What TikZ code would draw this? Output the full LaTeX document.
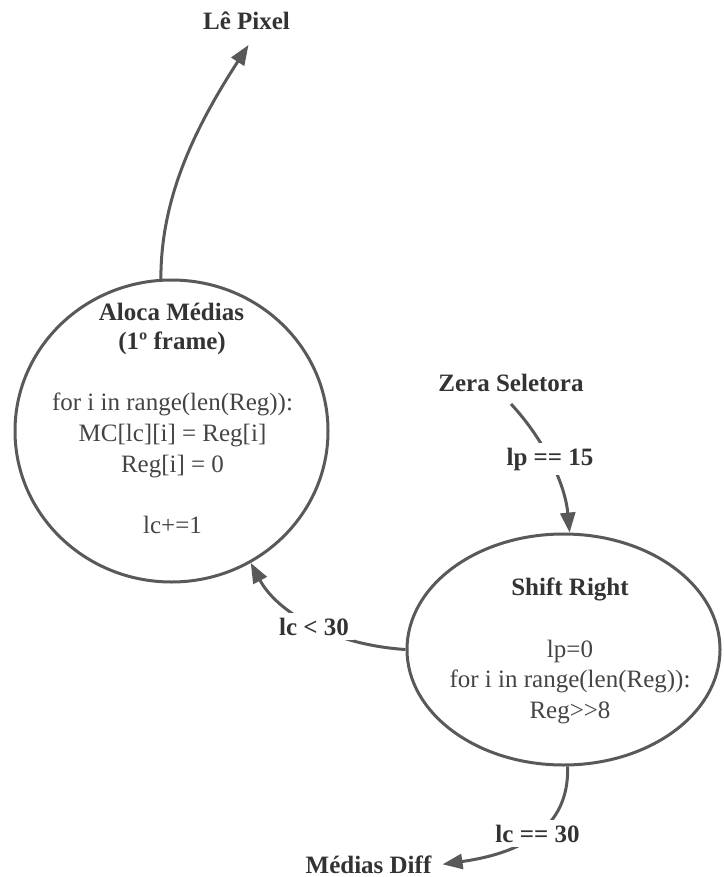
\documentclass[tikz,border=0pt]{standalone}
\usepackage{fontspec}
\setmainfont{Liberation Serif}
\usetikzlibrary{arrows.meta,shapes.geometric}
\definecolor{edgegray}{HTML}{595959}
\definecolor{textdark}{HTML}{333333}
\definecolor{textbody}{HTML}{444444}
\begin{document}
\begin{tikzpicture}[x=1pt,y=-1pt,
  state/.style={draw=edgegray, line width=3pt, ellipse, inner sep=0pt},
  title/.style={text=textdark, font=\fontsize{25}{31}\selectfont\bfseries, inner sep=0pt, anchor=base},
  body/.style={text=textbody, font=\fontsize{25}{31}\selectfont, inner sep=0pt, anchor=base},
  flow/.style={draw=edgegray, line width=3pt, -{Triangle[length=20pt,width=15pt]}},
  guard/.style={title, fill=white, inner sep=5pt},
]
\useasboundingbox (0,0) rectangle (723,877);

% states
\node[state, minimum width=313pt, minimum height=302pt] (aloca) at (171.5,431) {};
\node[state, minimum width=313pt, minimum height=231pt] (shift) at (563.5,649.5) {};

% text of "Aloca Médias"
\node[title] (alocaT1) at (171.5,320) {Aloca Médias};
\node[title] (alocaT2) at (172,349) {(1º frame)};
\node[body] (alocaB1) at (172.5,410) {for i in range(len(Reg)):};
\node[body] (alocaB2) at (172.5,441) {MC[lc][i] = Reg[i]};
\node[body] (alocaB3) at (172.5,472) {Reg[i] = 0};
\node[body] (alocaB4) at (172.5,533) {lc+=1};

% text of "Shift Right"
\node[title] (shiftT1) at (570,595) {Shift Right};
\node[body] (shiftB1) at (570,657) {lp=0};
\node[body] (shiftB2) at (570,687) {for i in range(len(Reg)):};
\node[body] (shiftB3) at (570,718) {Reg>\kern0pt>8};

% outer states
\node[title] (lepixel) at (246.5,30) {Lê Pixel};
\node[title] (zera) at (511,391) {Zera Seletora};
\node[title] (medias) at (368.5,873) {Médias Diff};

% transitions
\draw[flow] (aloca.94) .. controls +(0,-80) and +(-55,85) .. ([xshift=2pt,yshift=-15pt]lepixel.base);
\draw[flow] ([yshift=-13pt]zera.base) .. controls +(29,31) and +(-5,-53) .. (shift.87);
\draw[flow] (shift.180) .. controls +(-77,-5) and +(25,47) .. (aloca.-59);
\draw[flow] (shift.-88) .. controls +(2,63) and +(77,-11) .. ([xshift=11pt]medias.east);

% guards
\node[guard] (g1) at (550,465) {lp == 15};
\node[guard] (g2) at (314,635) {lc < 30};
\node[guard] (g3) at (537.5,842) {lc == 30};
\end{tikzpicture}
\end{document}
